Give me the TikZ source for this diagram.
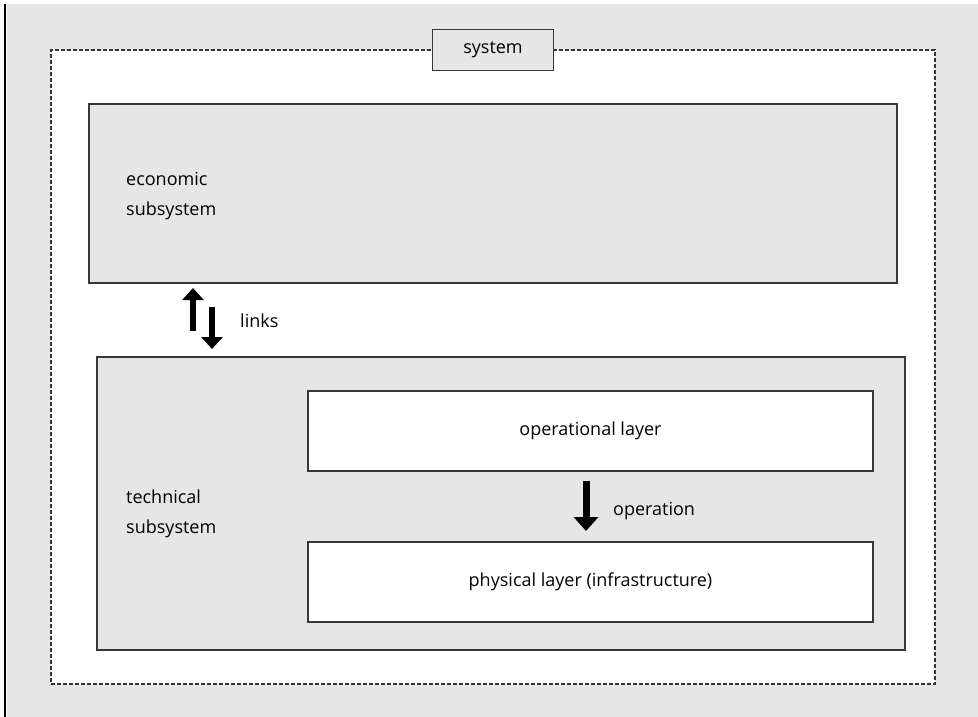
\documentclass[tikz,border=0pt]{standalone}
\usepackage{fontspec}
\setmainfont{Open Sans}
\usetikzlibrary{arrows.meta,calc}
\definecolor{panelgray}{RGB}{230,230,230}
\definecolor{edgegray}{RGB}{55,55,55}
\begin{document}
\begin{tikzpicture}[x=1pt,y=-1pt,
  every node/.style={font=\fontsize{18}{30}\selectfont},
  box/.style={draw=edgegray, line width=1.6pt, inner sep=0pt, outer sep=0pt, anchor=north west},
  panel/.style={box, fill=panelgray},
  layer/.style={box, fill=white},
  caption/.style={align=left, anchor=west, inner sep=0pt},
  fat/.style={line width=6.5pt, -{Triangle[width=21pt,length=12pt]}},
  fatter/.style={line width=7pt, -{Triangle[width=24pt,length=14pt]}}
]
\useasboundingbox (0,0) rectangle (978,717);
% page background and left rule
\fill[panelgray] (7,4) rectangle (978,717);
\draw[line width=2.5pt] (5,4) -- (5,717);

% system boundary
\node[box, draw=black!80, line width=1.4pt, dash pattern=on 4pt off 2pt, fill=white,
      minimum width=884pt, minimum height=634pt] (frame) at (51,50) {};
\node[draw=edgegray, line width=1.3pt, fill=panelgray, minimum width=121pt,
      minimum height=41pt, inner sep=0pt] (system) at (frame.north) {system};

% economic subsystem
\node[panel, minimum width=808pt, minimum height=179pt] (eco) at (89,104) {};
\node[caption] (ecolbl) at (126,196) {economic\\subsystem};

% technical subsystem
\node[panel, minimum width=808pt, minimum height=293pt] (tech) at (97,357) {};
\node[caption] (techlbl) at (126,514) {technical\\subsystem};

% layers
\node[layer, minimum width=565pt, minimum height=80pt] (oper) at (308,391) {};
\node (operlbl) at (oper.center) {operational layer};
\node[layer, minimum width=565pt, minimum height=80pt] (phys) at (308,542) {};
\node (physlbl) at (phys.center) {physical layer (infrastructure)};

% links between the subsystems
\coordinate (upfrom) at ($(tech.north west)+(96,-26)$);
\coordinate (upto)   at ($(eco.south west)+(104,5)$);
\coordinate (dnfrom) at ($(eco.south west)+(123,24)$);
\coordinate (dnto)   at ($(tech.north west)+(115,-8)$);
\draw[fat] (upfrom) -- (upto);
\draw[fat] (dnfrom) -- (dnto);
\node[caption] (links) at (240,321) {links};

% operation between the layers
\coordinate (opfrom) at ($(oper.south west)+(278,10)$);
\coordinate (opto)   at ($(phys.north west)+(278,-11)$);
\draw[fatter] (opfrom) -- (opto);
\node[caption] (oplbl) at (613,511) {operation};
\end{tikzpicture}
\end{document}
